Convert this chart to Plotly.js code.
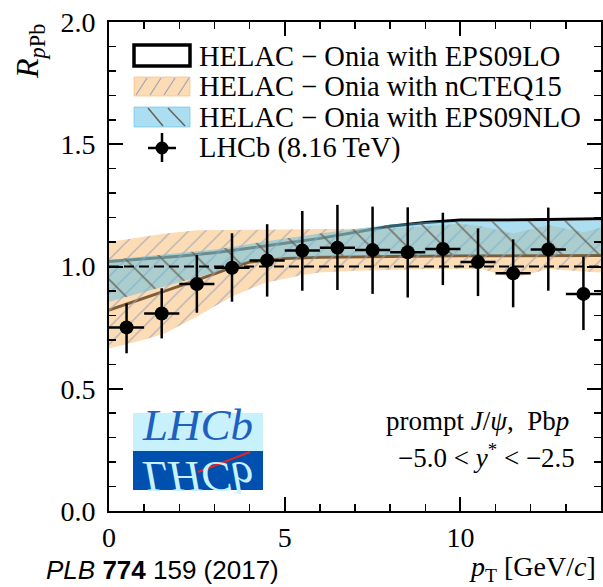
<!DOCTYPE html>
<html>
<head>
<meta charset="utf-8">
<script src="https://cdn.plot.ly/plotly-3.0.1.min.js"></script>
<style>html,body{margin:0;padding:0;background:#fff;}#chart{width:603px;height:587px;}</style>
</head>
<body>
<div id="chart"></div>
<script>
// ---- LHCb data (prompt J/psi, Pbp, -5.0<y*<-2.5) ----
var ptBin   = [0.5, 1.5, 2.5, 3.5, 4.5, 5.5, 6.5, 7.5, 8.5, 9.5, 10.5, 11.5, 12.5, 13.5];
var ptHalf  = [0.5, 0.5, 0.5, 0.5, 0.5, 0.5, 0.5, 0.5, 0.5, 0.5, 0.5, 0.5, 0.5, 0.5];
var rpPb    = [0.751, 0.808, 0.928, 0.995, 1.025, 1.065, 1.077, 1.067, 1.058, 1.072, 1.018, 0.972, 1.070, 0.888];
var rErrUp  = [0.098, 0.103, 0.119, 0.141, 0.148, 0.162, 0.175, 0.178, 0.184, 0.148, 0.138, 0.139, 0.171, 0.152];
var rErrDn  = [0.106, 0.102, 0.117, 0.139, 0.148, 0.164, 0.173, 0.179, 0.185, 0.148, 0.139, 0.139, 0.169, 0.148];

// ---- HELAC-Onia with EPS09LO (band edges, drawn as lines) ----
var ptLO     = [0, 1, 2, 3, 3.5, 4, 5, 6, 7, 8, 9, 10, 11, 12, 13, 14];
var loUpper  = [1.020, 1.030, 1.042, 1.056, 1.065, 1.075, 1.095, 1.115, 1.140, 1.165, 1.180, 1.190, 1.190, 1.192, 1.193, 1.195];
var loLower  = [0.822, 0.870, 0.920, 0.970, 0.997, 1.018, 1.033, 1.038, 1.040, 1.042, 1.043, 1.044, 1.044, 1.045, 1.045, 1.045];

// ---- HELAC-Onia with nCTEQ15 ----
var ptNC     = [0, 1, 1.6, 2.5, 3.5, 4.4, 5.5, 6, 7, 8, 9, 10, 10.6, 11.5, 12.5, 13.5, 14];
var ncUpper  = [1.100, 1.122, 1.135, 1.148, 1.150, 1.150, 1.152, 1.152, 1.154, 1.156, 1.165, 1.175, 1.165, 1.135, 1.170, 1.140, 1.160];
var ncLower  = [0.665, 0.700, 0.727, 0.795, 0.877, 0.931, 0.965, 0.975, 0.983, 0.988, 0.990, 0.990, 0.990, 0.952, 0.990, 0.980, 0.975];

// ---- HELAC-Onia with EPS09NLO ----
var ptNLO    = [0, 1, 2, 3, 3.5, 4, 5, 6, 7, 8, 9, 10, 11, 12, 13, 14];
var nloUpper = [1.027, 1.040, 1.055, 1.070, 1.080, 1.090, 1.115, 1.135, 1.155, 1.172, 1.182, 1.186, 1.186, 1.186, 1.187, 1.188];
var nloLower = [0.856, 0.895, 0.935, 0.975, 0.999, 1.022, 1.038, 1.043, 1.045, 1.047, 1.048, 1.049, 1.049, 1.050, 1.050, 1.050];

// ---- reference line ----
var refX = [0, 14];
var refY = [1, 1];

// ---- text ----
var legendLabels = ["HELAC \u2212 Onia with EPS09LO", "HELAC \u2212 Onia with nCTEQ15",
                    "HELAC \u2212 Onia with EPS09NLO", "LHCb (8.16\u2009TeV)"];
var xTicks = [0, 5, 10];
var yTicks = [0, 0.5, 1.0, 1.5, 2.0];

// ---- colours ----
var orangeFill = "rgba(250,185,105,0.5)";
var blueFill   = "rgba(90,190,230,0.5)";
var orangeHatch = "#9ea4b8";
var blueHatch   = "#6a6055";

// geometry helpers (pixel -> paper)
var L = 109, R = 601, T = 22, B = 511;
function px(x) { return (x - L) / (R - L); }
function py(y) { return (B - y) / (B - T); }

function band(x, lo, hi) {
  var xs = x.slice(), ys = lo.slice();
  for (var i = x.length - 1; i >= 0; i--) { xs.push(x[i]); ys.push(hi[i]); }
  return {x: xs, y: ys};
}

var ncBand = band(ptNC, ncLower, ncUpper);
var nloBand = band(ptNLO, nloLower, nloUpper);

var SERIF = "Liberation Serif, Times New Roman, serif";

var traces = [
  {x: ptLO, y: loUpper, mode: "lines", line: {color: "black", width: 3}, hoverinfo: "skip"},
  {x: ptLO, y: loLower, mode: "lines", line: {color: "black", width: 3}, hoverinfo: "skip"},
  {x: ncBand.x, y: ncBand.y, mode: "lines", line: {width: 0, color: "rgba(0,0,0,0)"}, fill: "toself",
   fillcolor: orangeFill,
   fillpattern: {shape: "/", bgcolor: orangeFill, fgcolor: orangeHatch, fgopacity: 0.9, size: 12, solidity: 0.1},
   hoverinfo: "skip"},
  {x: nloBand.x, y: nloBand.y, mode: "lines", line: {width: 0, color: "rgba(0,0,0,0)"}, fill: "toself",
   fillcolor: blueFill,
   fillpattern: {shape: "\\", bgcolor: blueFill, fgcolor: blueHatch, fgopacity: 0.9, size: 26, solidity: 0.06},
   hoverinfo: "skip"},
  {x: refX, y: refY, mode: "lines", line: {color: "black", width: 2, dash: "10px,5px"}, hoverinfo: "skip"},
  {x: ptBin, y: rpPb, mode: "markers", marker: {color: "black", size: 14},
   error_y: {type: "data", symmetric: false, array: rErrUp, arrayminus: rErrDn, color: "black", thickness: 2.5, width: 0},
   error_x: {type: "data", array: ptHalf, color: "black", thickness: 2.5, width: 0}}
];

var shapes = [];
var annotations = [];
// legend
shapes.push({type: "rect", xref: "paper", yref: "paper", x0: px(134), x1: px(190), y0: py(66), y1: py(45),
             line: {color: "black", width: 3.5}, fillcolor: "white"});
shapes.push({type: "rect", xref: "paper", yref: "paper", x0: px(134), x1: px(190), y0: py(96), y1: py(77),
             line: {color: "rgba(250,185,105,0.6)", width: 1}, fillcolor: orangeFill});
[136, 150, 164, 178].forEach(function (x0) {
  shapes.push({type: "line", xref: "paper", yref: "paper", x0: px(x0), y0: py(95), x1: px(x0 + 11), y1: py(78),
               line: {color: orangeHatch, width: 1.2}});
});
shapes.push({type: "rect", xref: "paper", yref: "paper", x0: px(134), x1: px(190), y0: py(127), y1: py(107),
             line: {color: "rgba(90,190,230,0.6)", width: 1}, fillcolor: blueFill});
[[148, 163], [168, 185]].forEach(function (p) {
  shapes.push({type: "line", xref: "paper", yref: "paper", x0: px(p[0]), y0: py(108), x1: px(p[1]), y1: py(126),
               line: {color: blueHatch, width: 1.5}});
});
shapes.push({type: "line", xref: "paper", yref: "paper", x0: px(162), x1: px(162), y0: py(133), y1: py(162),
             line: {color: "black", width: 2.5}});
shapes.push({type: "line", xref: "paper", yref: "paper", x0: px(148), x1: px(176), y0: py(148), y1: py(148),
             line: {color: "black", width: 2.5}});
shapes.push({type: "circle", xref: "paper", yref: "paper", x0: px(155.5), x1: px(168.5), y0: py(154.5), y1: py(141.5),
             line: {color: "black", width: 0}, fillcolor: "black"});
var legY = [56, 86, 117, 148];
legendLabels.forEach(function (t, i) {
  annotations.push({xref: "paper", yref: "paper", x: px(197), y: py(legY[i]), xanchor: "left", yanchor: "middle",
                    text: t, showarrow: false, font: {family: SERIF, size: 28.5, color: "black"}});
});

// LHCb logo
shapes.push({type: "rect", xref: "paper", yref: "paper", x0: px(133), x1: px(263), y0: py(451), y1: py(413),
             line: {width: 0}, fillcolor: "#c8f2fb"});
shapes.push({type: "rect", xref: "paper", yref: "paper", x0: px(133), x1: px(263), y0: py(490), y1: py(451),
             line: {width: 0}, fillcolor: "#0050b0"});
annotations.push({xref: "paper", yref: "paper", x: px(197), y: py(452), xanchor: "center", yanchor: "bottom",
                  text: "<i>LHCb</i>", showarrow: false, font: {family: SERIF, size: 45, color: "#1f5fbf"}});
annotations.push({xref: "paper", yref: "paper", x: px(197), y: py(452), xanchor: "center", yanchor: "bottom",
                  text: "<i>LHCb</i>", showarrow: false, font: {family: SERIF, size: 45, color: "#c8f2fb"}});
shapes.push({type: "line", xref: "paper", yref: "paper", x0: px(198), y0: py(472), x1: px(250), y1: py(452),
             line: {color: "#e8231f", width: 2}});

// labels
annotations.push({xref: "paper", yref: "paper", x: px(571), y: py(421), xanchor: "right", yanchor: "middle",
                  text: "prompt <i>J</i>/<i>\u03c8</i>,  Pb<i>p</i>", showarrow: false,
                  font: {family: SERIF, size: 27, color: "black"}});
annotations.push({xref: "paper", yref: "paper", x: px(577), y: py(456), xanchor: "right", yanchor: "middle",
                  text: "\u22125.0 < <i>y</i><sup>*</sup> < \u22122.5", showarrow: false,
                  font: {family: SERIF, size: 27, color: "black"}});
annotations.push({xref: "paper", yref: "paper", x: px(598), y: py(568), xanchor: "right", yanchor: "middle",
                  text: "<i>p</i><sub>T</sub> [GeV/<i>c</i>]", showarrow: false,
                  font: {family: SERIF, size: 28, color: "black"}});
annotations.push({xref: "paper", yref: "paper", x: px(44), y: py(570), xanchor: "left", yanchor: "middle",
                  text: "<i>PLB</i> <b>774</b> 159 (2017)", showarrow: false,
                  font: {family: "Liberation Sans, Arial, sans-serif", size: 26, color: "black"}});
annotations.push({xref: "paper", yref: "paper", x: px(30), y: py(52), xanchor: "center", yanchor: "middle",
                  textangle: -90, text: "<i>R</i><sub><i>p</i>Pb</sub>", showarrow: false,
                  font: {family: SERIF, size: 32, color: "black"}});

var axisCommon = {
  showline: true, linecolor: "black", linewidth: 2, mirror: "allticks",
  ticks: "inside", ticklen: 14, tickwidth: 2, tickcolor: "black",
  showgrid: false, zeroline: false, fixedrange: true,
  tickfont: {family: SERIF, size: 28, color: "black"}
};

var layout = {
  width: 603, height: 587,
  margin: {l: L, r: 603 - R, t: T, b: 587 - B, pad: 0},
  paper_bgcolor: "white", plot_bgcolor: "white",
  showlegend: false,
  xaxis: Object.assign({}, axisCommon, {range: [0, 14], tickvals: xTicks, ticktext: xTicks.map(String),
    minor: {dtick: 1, ticks: "inside", ticklen: 7, tickwidth: 1.5, tickcolor: "black"}}),
  yaxis: Object.assign({}, axisCommon, {range: [0, 2], tickvals: yTicks, ticktext: yTicks.map(function (v) { return v.toFixed(1); }),
    minor: {dtick: 0.1, ticks: "inside", ticklen: 7, tickwidth: 1.5, tickcolor: "black"}, ticklabelstandoff: 6}),
  shapes: shapes,
  annotations: annotations
};

Plotly.newPlot("chart", traces, layout, {staticPlot: true, displayModeBar: false}).then(function () {
  // mirror the second LHCb logo text about the logo's middle line
  var idx = 1 + legendLabels.length; // index of mirrored logo text
  var g = document.querySelector('#chart .annotation[data-index="' + idx + '"]');
  if (g) { g.setAttribute("transform", "translate(0," + (2 * 451) + ") scale(1,-1)"); }
});
</script>
</body>
</html>
